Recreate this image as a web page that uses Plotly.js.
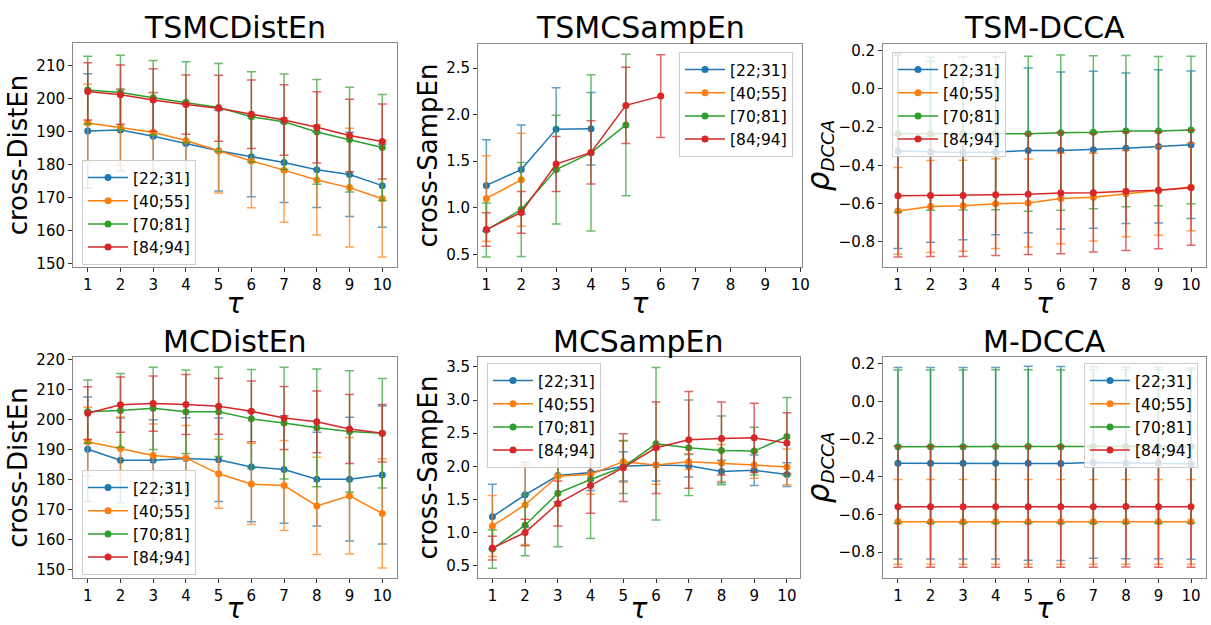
<!DOCTYPE html>
<html>
<head>
<meta charset="utf-8">
<script src="https://cdn.plot.ly/plotly-3.0.1.min.js"></script>
<style>html,body{margin:0;padding:0;background:#fff;}#chart{width:1211px;height:625px;}</style>
</head>
<body>
<div id="chart"></div>
<script>
// ---------- data ----------
const tau = [1, 2, 3, 4, 5, 6, 7, 8, 9, 10];
const groups = ["[22;31]", "[40;55]", "[70;81]", "[84;94]"];
const colors = ["31,119,180", "255,127,14", "44,160,44", "214,39,40"];
const panelTitles = ["TSMCDistEn", "TSMCSampEn", "TSM-DCCA", "MCDistEn", "MCSampEn", "M-DCCA"];
const rhoTitle = "<span style=\"font-size:31px\"><i>ρ</i></span><sub><i>DCCA</i></sub>";
const yTitles = ["cross-DistEn", "cross-SampEn", rhoTitle, "cross-DistEn", "cross-SampEn", rhoTitle];

// TSMCDistEn
const tsmcDist_mean_22 = [190.2, 190.5, 188.6, 186.4, 184.2, 182.4, 180.6, 178.4, 177.0, 173.6];
const tsmcDist_std_22  = [17.4, 12.4, 13.3, 12.1, 12.2, 12.2, 12.1, 11.4, 12.8, 12.6];
const tsmcDist_mean_40 = [192.6, 191.3, 189.8, 187.3, 184.1, 181.1, 178.3, 175.3, 173.0, 169.6];
const tsmcDist_std_40  = [11.8, 11.5, 12.0, 11.5, 12.7, 14.2, 15.8, 16.7, 18.0, 17.7];
const tsmcDist_mean_70 = [202.6, 201.9, 200.3, 198.9, 197.3, 194.5, 193.0, 189.9, 187.6, 185.2];
const tsmcDist_std_70  = [10.3, 11.3, 11.3, 12.3, 13.4, 13.7, 14.5, 15.9, 15.9, 16.1];
const tsmcDist_mean_84 = [202.2, 201.2, 199.6, 198.2, 197.1, 195.3, 193.5, 191.3, 188.8, 187.0];
const tsmcDist_std_84  = [8.7, 9.0, 9.5, 9.0, 10.0, 10.4, 10.7, 10.8, 11.0, 11.4];

// TSMCSampEn
const tsmcSamp_mean_22 = [1.24, 1.41, 1.845, 1.85, null, null, null, null, null, null];
const tsmcSamp_std_22  = [0.49, 0.48, 0.445, 0.39, null, null, null, null, null, null];
const tsmcSamp_mean_40 = [1.10, 1.30, null, null, null, null, null, null, null, null];
const tsmcSamp_std_40  = [0.46, 0.50, null, null, null, null, null, null, null, null];
const tsmcSamp_mean_70 = [0.76, 0.98, 1.41, 1.59, 1.89, null, null, null, null, null];
const tsmcSamp_std_70  = [0.29, 0.505, 0.585, 0.84, 0.76, null, null, null, null, null];
const tsmcSamp_mean_84 = [0.765, 0.95, 1.47, 1.595, 2.10, 2.20, null, null, null, null];
const tsmcSamp_std_84  = [0.18, 0.225, 0.295, 0.34, 0.41, 0.445, null, null, null, null];

// TSM-DCCA
const tsmDcca_mean_22 = [-0.325, -0.330, -0.333, -0.330, -0.322, -0.322, -0.318, -0.311, -0.301, -0.292];
const tsmDcca_std_22  = [0.51, 0.472, 0.455, 0.432, 0.43, 0.41, 0.41, 0.393, 0.40, 0.385];
const tsmDcca_mean_40 = [-0.638, -0.615, -0.611, -0.600, -0.597, -0.573, -0.566, -0.548, -0.533, -0.513];
const tsmDcca_std_40  = [0.227, 0.24, 0.238, 0.235, 0.23, 0.236, 0.229, 0.225, 0.232, 0.228];
const tsmDcca_mean_70 = [-0.235, -0.235, -0.233, -0.232, -0.235, -0.229, -0.227, -0.221, -0.221, -0.215];
const tsmDcca_std_70  = [0.41, 0.40, 0.40, 0.40, 0.405, 0.405, 0.40, 0.395, 0.39, 0.385];
const tsmDcca_mean_84 = [-0.559, -0.557, -0.557, -0.553, -0.551, -0.545, -0.543, -0.535, -0.530, -0.517];
const tsmDcca_std_84  = [0.32, 0.319, 0.319, 0.318, 0.315, 0.317, 0.31, 0.31, 0.306, 0.301];

// MCDistEn
const mcDist_mean_22 = [190.1, 186.4, 186.4, 187.0, 186.6, 184.2, 183.3, 180.1, 180.1, 181.5];
const mcDist_std_22  = [17.4, 14.1, 13.5, 13.6, 13.9, 18.3, 17.9, 15.6, 20.6, 23.0];
const mcDist_mean_40 = [192.6, 190.3, 188.0, 187.2, 181.9, 178.5, 178.0, 171.2, 174.6, 168.7];
const mcDist_std_40  = [11.5, 10.5, 10.5, 10.8, 11.5, 13.5, 15.0, 16.2, 19.4, 18.2];
const mcDist_mean_70 = [202.6, 203.0, 203.7, 202.6, 202.6, 200.2, 198.8, 197.2, 196.0, 195.4];
const mcDist_std_70  = [10.5, 12.3, 13.7, 13.9, 14.9, 16.4, 18.6, 19.6, 20.2, 18.2];
const mcDist_mean_84 = [202.1, 204.9, 205.3, 205.0, 204.4, 202.7, 200.5, 199.2, 196.8, 195.4];
const mcDist_std_84  = [8.8, 9.2, 9.2, 10.0, 9.3, 10.1, 10.5, 10.3, 11.5, 9.6];

// MCSampEn
const mcSamp_mean_22 = [1.24, 1.57, 1.86, 1.905, 2.0, 2.02, 2.01, 1.92, 1.94, 1.875];
const mcSamp_std_22  = [0.49, 0.49, 0.40, 0.27, 0.22, 0.24, 0.17, 0.17, 0.23, 0.18];
const mcSamp_mean_40 = [1.10, 1.42, 1.85, 1.88, 2.07, 2.02, 2.07, 2.05, 2.02, 1.99];
const mcSamp_std_40  = [0.46, 0.60, 0.45, 0.30, 0.31, 0.29, 0.12, 0.28, 0.20, 0.27];
const mcSamp_mean_70 = [0.75, 1.11, 1.595, 1.80, 1.99, 2.34, 2.28, 2.24, 2.23, 2.45];
const mcSamp_std_70  = [0.29, 0.46, 0.81, 0.89, 0.40, 1.15, 0.72, 0.52, 0.36, 0.59];
const mcSamp_mean_84 = [0.765, 1.0, 1.44, 1.71, 1.98, 2.28, 2.40, 2.42, 2.43, 2.35];
const mcSamp_std_84  = [0.18, 0.20, 0.34, 0.42, 0.51, 0.69, 0.73, 0.55, 0.52, 0.46];

// M-DCCA
const mDcca_mean_22 = [-0.329, -0.329, -0.329, -0.329, -0.329, -0.330, -0.325, -0.328, -0.328, -0.331];
const mDcca_std_22  = [0.508, 0.508, 0.508, 0.508, 0.515, 0.515, 0.508, 0.508, 0.508, 0.508];
const mDcca_mean_40 = [-0.640, -0.640, -0.640, -0.640, -0.640, -0.640, -0.640, -0.640, -0.640, -0.640];
const mDcca_std_40  = [0.225, 0.225, 0.225, 0.225, 0.225, 0.225, 0.225, 0.225, 0.225, 0.225];
const mDcca_mean_70 = [-0.241, -0.241, -0.241, -0.240, -0.240, -0.241, -0.240, -0.240, -0.240, -0.240];
const mDcca_std_70  = [0.407, 0.407, 0.407, 0.407, 0.407, 0.407, 0.407, 0.407, 0.407, 0.407];
const mDcca_mean_84 = [-0.560, -0.560, -0.560, -0.560, -0.560, -0.560, -0.560, -0.559, -0.560, -0.560];
const mDcca_std_84  = [0.321, 0.321, 0.321, 0.321, 0.321, 0.321, 0.321, 0.321, 0.321, 0.321];

const panels = [
  {means: [tsmcDist_mean_22, tsmcDist_mean_40, tsmcDist_mean_70, tsmcDist_mean_84], stds: [tsmcDist_std_22, tsmcDist_std_40, tsmcDist_std_70, tsmcDist_std_84]},
  {means: [tsmcSamp_mean_22, tsmcSamp_mean_40, tsmcSamp_mean_70, tsmcSamp_mean_84], stds: [tsmcSamp_std_22, tsmcSamp_std_40, tsmcSamp_std_70, tsmcSamp_std_84]},
  {means: [tsmDcca_mean_22, tsmDcca_mean_40, tsmDcca_mean_70, tsmDcca_mean_84], stds: [tsmDcca_std_22, tsmDcca_std_40, tsmDcca_std_70, tsmDcca_std_84]},
  {means: [mcDist_mean_22, mcDist_mean_40, mcDist_mean_70, mcDist_mean_84], stds: [mcDist_std_22, mcDist_std_40, mcDist_std_70, mcDist_std_84]},
  {means: [mcSamp_mean_22, mcSamp_mean_40, mcSamp_mean_70, mcSamp_mean_84], stds: [mcSamp_std_22, mcSamp_std_40, mcSamp_std_70, mcSamp_std_84]},
  {means: [mDcca_mean_22, mDcca_mean_40, mDcca_mean_70, mDcca_mean_84], stds: [mDcca_std_22, mDcca_std_40, mDcca_std_70, mDcca_std_84]}
];

// ---------- layout geometry ----------
const W = 1211, H = 625;
const boxes = [ // [left, right, top, bottom] in px
  [73, 397, 43, 267], [478, 802, 44, 267], [883, 1206, 44, 267],
  [73, 397, 357, 578], [478, 800, 357, 578], [883, 1206, 357, 578]
];
const xRanges = [[0.55, 10.45], [0.76, 10.05], [0.54, 10.46], [0.55, 10.45], [0.56, 10.4], [0.54, 10.46]];
const yRanges = [[148.9, 216.9], [0.363, 2.76], [-0.931, 0.234], [147.2, 220.8], [0.314, 3.65], [-0.938, 0.235]];
const yTicks = [
  [150, 160, 170, 180, 190, 200, 210],
  [0.5, 1.0, 1.5, 2.0, 2.5],
  [-0.8, -0.6, -0.4, -0.2, 0.0, 0.2],
  [150, 160, 170, 180, 190, 200, 210, 220],
  [0.5, 1.0, 1.5, 2.0, 2.5, 3.0, 3.5],
  [-0.8, -0.6, -0.4, -0.2, 0.0, 0.2]
];
const yFormats = ["d", ".1f", ".1f", "d", ".1f", ".1f"];
const legendPos = [
  {x: 82, y: 160, xanchor: "left"}, {x: 679, y: 52, xanchor: "left"}, {x: 892, y: 52, xanchor: "left"},
  {x: 82, y: 470, xanchor: "left"}, {x: 487, y: 363, xanchor: "left"}, {x: 1198, y: 363, xanchor: "right"}
];

const font = "DejaVu Sans";
const data = [];
const layout = {
  width: W, height: H,
  margin: {l: 0, r: 0, t: 0, b: 0},
  paper_bgcolor: "#ffffff", plot_bgcolor: "#ffffff",
  font: {family: font, color: "#000000", size: 15},
  annotations: []
};

panels.forEach((p, i) => {
  const n = i + 1;
  const xa = "xaxis" + (n === 1 ? "" : n), ya = "yaxis" + (n === 1 ? "" : n);
  const xr = "x" + (n === 1 ? "" : n), yr = "y" + (n === 1 ? "" : n);
  const lg = "legend" + (n === 1 ? "" : n);
  const b = boxes[i];
  layout[xa] = {
    domain: [b[0] / W, b[1] / W], anchor: yr, range: xRanges[i],
    tickvals: tau, ticktext: tau.map(String), ticks: "outside", ticklen: 4, tickwidth: 1, tickcolor: "#333",
    showline: true, mirror: true, linecolor: "#8a8a8a", linewidth: 1, showgrid: false, zeroline: false,
    tickfont: {size: 15, family: font},
    title: {text: "<i>τ</i>", font: {size: 28, family: font}, standoff: 0},
    automargin: false
  };
  layout[ya] = {
    domain: [1 - b[3] / H, 1 - b[2] / H], anchor: xr, range: yRanges[i],
    tickvals: yTicks[i], tickformat: yFormats[i], ticks: "outside", ticklen: 4, tickwidth: 1, tickcolor: "#333",
    showline: true, mirror: true, linecolor: "#8a8a8a", linewidth: 1, showgrid: false, zeroline: false,
    tickfont: {size: 15, family: font},
    title: {text: yTitles[i], font: {size: 26, family: font}, standoff: 1},
    automargin: false
  };
  const lp = legendPos[i];
  layout[lg] = {
    x: lp.x / W, y: 1 - lp.y / H, xanchor: lp.xanchor, yanchor: "top",
    xref: "paper", yref: "paper",
    bgcolor: "rgba(255,255,255,0.8)", bordercolor: "#cccccc", borderwidth: 1,
    font: {size: 15.5, family: font}, tracegroupgap: 0, itemwidth: 40
  };
  layout.annotations.push({
    text: panelTitles[i], xref: "paper", yref: "paper",
    x: (b[0] + b[1]) / 2 / W, y: 1 - (b[2] - 16) / H, xanchor: "center", yanchor: "middle",
    showarrow: false, font: {size: 30, family: font, color: "#000"}
  });
  groups.forEach((g, k) => {
    data.push({
      type: "scatter", mode: "lines+markers", name: g,
      x: tau, y: p.means[k], xaxis: xr, yaxis: yr, legend: lg,
      line: {color: "rgb(" + colors[k] + ")", width: 1.5},
      marker: {color: "rgb(" + colors[k] + ")", size: 7},
      error_y: {type: "data", array: p.stds[k], visible: true, symmetric: true,
                color: "rgba(" + colors[k] + ",0.7)", thickness: 1.5, width: 4.5},
      connectgaps: false, cliponaxis: true
    });
  });
});

Plotly.newPlot("chart", data, layout, {displayModeBar: false, staticPlot: true});
</script>
</body>
</html>
